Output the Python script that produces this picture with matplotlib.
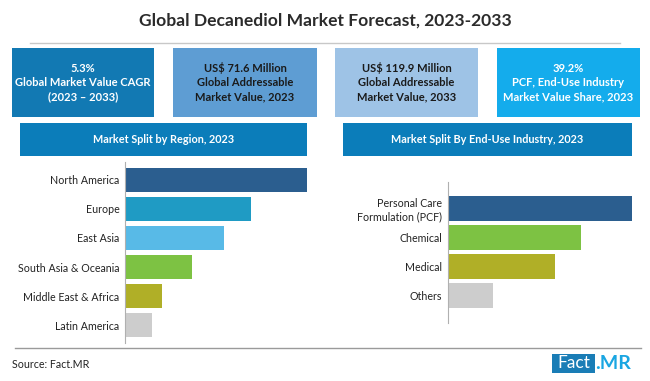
import matplotlib
matplotlib.use("Agg")
import matplotlib.pyplot as plt
from matplotlib.patches import Rectangle

plt.rcParams['font.family'] = ['Lato', 'DejaVu Sans']

W, H = 650, 381

# ---- data ----
title = "Global Decanediol Market Forecast, 2023-2033"
kpi_texts = ["5.3%\nGlobal Market Value CAGR\n(2023 \u2013 2033)",
             "US$ 71.6 Million\nGlobal Addressable\nMarket Value, 2023",
             "US$ 119.9 Million\nGlobal Addressable\nMarket Value, 2033",
             "39.2%\nPCF, End-Use Industry\nMarket Value Share, 2023"]
kpi_colors = ["#1279B3", "#5E9DD3", "#9EC3E6", "#14ACEC"]
kpi_text_colors = ["white", "#1a1a1a", "#1a1a1a", "white"]

region_title = "Market Split by Region, 2023"
regions = ["North America", "Europe", "East Asia", "South Asia & Oceania",
           "Middle East & Africa", "Latin America"]
region_values = [100, 69, 54.5, 37, 20.5, 15]
region_colors = ["#2B5E8F", "#1F9BC4", "#58BAE7", "#7DC243", "#B0AF27", "#CDCDCD"]

industry_title = "Market Split By End-Use Industry, 2023"
industries = ["Personal Care\nFormulation (PCF)", "Chemical", "Medical", "Others"]
industry_values = [100, 72.5, 58, 24.5]
industry_colors = ["#2B5E8F", "#7DC243", "#B0AF27", "#CDCDCD"]

source = "Source: Fact.MR"

fig = plt.figure(figsize=(W / 100, H / 100), dpi=100)
fig.patch.set_facecolor("white")

def fx(x):
    return x / W

def fy(y):
    return 1 - y / H

def rect(x0, y0, x1, y1, color):
    fig.add_artist(Rectangle((fx(x0), fy(y1)), fx(x1) - fx(x0), fy(y0) - fy(y1),
                             transform=fig.transFigure, facecolor=color,
                             edgecolor="none"))

# title
fig.text(fx(325), fy(21), title, ha="center", va="center", fontsize=12.6,
         fontweight="bold", color="#2b2b2b")
fig.add_artist(plt.Line2D([fx(30), fx(620)], [fy(43), fy(43)],
                          transform=fig.transFigure, color="#C8C8C8", lw=1))

# KPI boxes
box_x = [(12, 154), (173, 317), (335, 478), (497, 640)]
for (x0, x1), t, c, tc in zip(box_x, kpi_texts, kpi_colors, kpi_text_colors):
    rect(x0, 48, x1, 117, c)
    fig.text(fx((x0 + x1) / 2), fy(82.5), t, ha="center", va="center",
             fontsize=8, fontweight="bold", color=tc, linespacing=1.35)

# section headers
for (x0, x1), t in [((20, 307), region_title), ((343, 632), industry_title)]:
    rect(x0, 123, x1, 156, "#0B7DBA")
    fig.text(fx((x0 + x1) / 2), fy(139.5), t, ha="center", va="center",
             fontsize=7.8, fontweight="bold", color="white")

def bar_axes(x0, x1, y0, y1, cats, vals, cols, top_pad, bot_pad):
    ax = fig.add_axes([fx(x0), fy(y1), fx(x1) - fx(x0), fy(y0) - fy(y1)])
    ax.barh(range(len(cats)), vals, color=cols, height=0.85)
    ax.set_xlim(0, max(vals))
    ax.set_ylim(len(cats) - 1 + bot_pad, -top_pad)
    ax.set_yticks(range(len(cats)))
    ax.set_yticklabels(cats, fontsize=7.7, color="#222222", linespacing=1.2)
    ax.tick_params(axis="y", length=0, pad=4)
    ax.set_xticks([])
    for s in ["top", "right", "bottom"]:
        ax.spines[s].set_visible(False)
    ax.spines["left"].set_color("#B0B0B0")
    ax.spines["left"].set_linewidth(0.8)
    ax.patch.set_alpha(0)
    return ax

bar_axes(125, 307, 162, 343, regions, region_values, region_colors, 0.62, 0.62)
bar_axes(448, 632, 182, 323, industries, industry_values, industry_colors, 0.91, 0.95)

# bottom line
fig.add_artist(plt.Line2D([fx(15), fx(641)], [fy(348), fy(348)],
                          transform=fig.transFigure, color="#9A9A9A", lw=1))

fig.text(fx(12), fy(365), source, ha="left", va="center", fontsize=7.7,
         color="#222222")

# logo
rect(552, 354, 595, 373, "#1A7DB6")
fig.text(fx(573.5), fy(363.5), "Fact", ha="center", va="center", fontsize=12.5,
         color="white")
fig.text(fx(595.5), fy(363.5), ".MR", ha="left", va="center", fontsize=14,
         fontweight="bold", color="#1AA6E2")

fig.savefig("out.png", dpi=100)
